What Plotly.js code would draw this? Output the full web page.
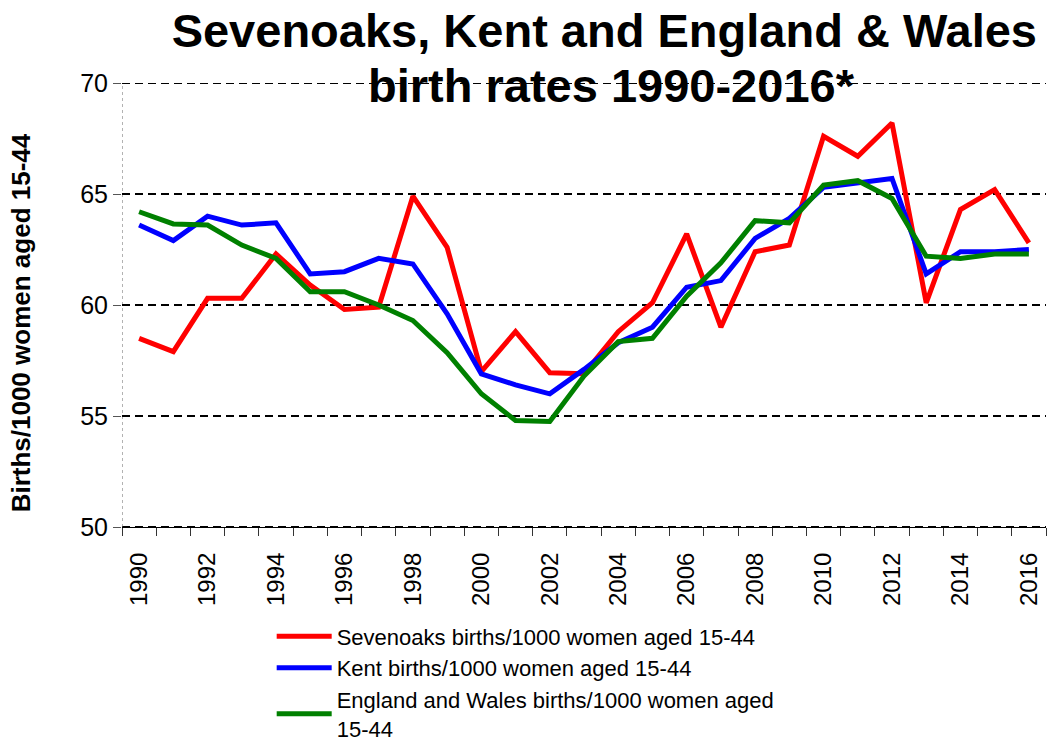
<!DOCTYPE html>
<html>
<head>
<meta charset="utf-8">
<script src="https://cdn.plot.ly/plotly-3.0.1.min.js"></script>
<style>
  html, body { margin: 0; padding: 0; background: #ffffff; }
  #chart { width: 1056px; height: 744px; }
</style>
</head>
<body>
<div id="chart"></div>
<script>
const years = [1990,1991,1992,1993,1994,1995,1996,1997,1998,1999,2000,2001,2002,2003,2004,2005,2006,2007,2008,2009,2010,2011,2012,2013,2014,2015,2016];

const sevenoaks = [58.5,57.9,60.3,60.3,62.3,60.9,59.8,59.9,64.9,62.6,57.0,58.8,56.95,56.9,58.8,60.1,63.2,59.0,62.4,62.7,67.6,66.7,68.2,60.1,64.3,65.2,62.8];
const kent      = [63.6,62.9,64.0,63.6,63.7,61.4,61.5,62.1,61.85,59.6,56.9,56.4,56.0,57.1,58.3,59.0,60.8,61.1,63.0,63.9,65.3,65.5,65.7,61.4,62.4,62.4,62.5];
const englandWales = [64.2,63.65,63.6,62.7,62.1,60.6,60.6,60.0,59.3,57.85,56.0,54.8,54.75,56.8,58.35,58.5,60.4,61.9,63.8,63.7,65.4,65.6,64.8,62.2,62.1,62.3,62.3];

const tickYears = [1990,1992,1994,1996,1998,2000,2002,2004,2006,2008,2010,2012,2014,2016];
const tickLabels = ["1990","1992","1994","1996","1998","2000","2002","2004","2006","2008","2010","2012","2014","2016"];

const seriesNames = [
  "Sevenoaks births/1000 women aged 15-44",
  "Kent births/1000 women aged 15-44",
  "England and Wales births/1000 women aged<br>15-44"
];
const seriesColors = ["#FF0000", "#0000FF", "#008000"];

const FONT = "Liberation Sans, Arial, Helvetica, sans-serif";

const traces = [sevenoaks, kent, englandWales].map((vals, i) => ({
  type: "scatter",
  mode: "lines",
  x: years,
  y: vals,
  name: seriesNames[i],
  line: { color: seriesColors[i], width: 5 },
  hoverinfo: "x+y"
}));

const layout = {
  width: 1056,
  height: 744,
  paper_bgcolor: "#ffffff",
  plot_bgcolor: "#ffffff",
  margin: { l: 122, r: 10, t: 83, b: 217, pad: 0, autoexpand: false },
  font: { family: FONT, color: "#000000" },
  title: {
    text: "<b>Sevenoaks, Kent and England & Wales</b>",
    font: { family: FONT, size: 47, color: "#000000" },
    x: 0.522, xanchor: "center", xref: "paper",
    y: 0.981, yanchor: "top", yref: "container"
  },
  annotations: [{
    text: "<b>birth rates 1990-2016*</b>",
    font: { family: FONT, size: 47, color: "#000000" },
    xref: "paper", yref: "paper",
    x: 0.530, xanchor: "center",
    y: 0.995, yanchor: "middle",
    showarrow: false
  }],
  showlegend: true,
  legend: {
    x: 0.162, xanchor: "left",
    y: -0.199, yanchor: "top",
    orientation: "v",
    itemwidth: 55,
    font: { family: FONT, size: 22, color: "#000000" },
    bgcolor: "rgba(0,0,0,0)",
    borderwidth: 0,
    traceorder: "normal"
  },
  xaxis: {
    type: "linear",
    range: [1989.5, 2016.5],
    tickmode: "array",
    tickvals: tickYears,
    ticktext: tickLabels,
    tickangle: -90,
    ticks: "",
    ticklabelstandoff: 15,
    tickfont: { family: FONT, size: 24, color: "#000000" },
    showgrid: false,
    zeroline: false,
    showline: true,
    linecolor: "#000000",
    linewidth: 1,
    automargin: false,
    minor: {
      tick0: 1989.5,
      dtick: 1,
      ticks: "outside",
      ticklen: 8,
      tickcolor: "#333333",
      tickwidth: 1,
      showgrid: false
    },
    fixedrange: true
  },
  yaxis: {
    range: [50, 70],
    tickmode: "linear",
    tick0: 50,
    dtick: 5,
    ticks: "outside",
    ticklen: 8,
    tickcolor: "#555555",
    tickwidth: 1,
    tickfont: { family: FONT, size: 25, color: "#000000" },
    showgrid: true,
    gridcolor: "#000000",
    gridwidth: 2,
    griddash: "8px,5px",
    zeroline: false,
    showline: false,
    automargin: false,
    title: {
      text: "<b>Births/1000 women aged 15-44</b>&nbsp;&nbsp;&nbsp;&nbsp;&nbsp;",
      font: { family: FONT, size: 26, color: "#000000" },
      standoff: 42
    },
    fixedrange: true
  },
  shapes: [
    { type: "line", xref: "x", yref: "y", x0: 1989.5, x1: 1989.5, y0: 50, y1: 70,
      line: { color: "#666666", width: 1, dash: "dot" }, layer: "below" },
    { type: "line", xref: "paper", yref: "y", x0: 0, x1: 1, y0: 50, y1: 50,
      line: { color: "#000000", width: 2, dash: "8px,5px" }, layer: "below" },
    { type: "line", xref: "paper", yref: "y", x0: 0, x1: 1, y0: 70, y1: 70,
      line: { color: "#000000", width: 2, dash: "8px,5px" }, layer: "below" }
  ]
};

Plotly.newPlot("chart", traces, layout, { displayModeBar: false, staticPlot: true });
</script>
</body>
</html>
